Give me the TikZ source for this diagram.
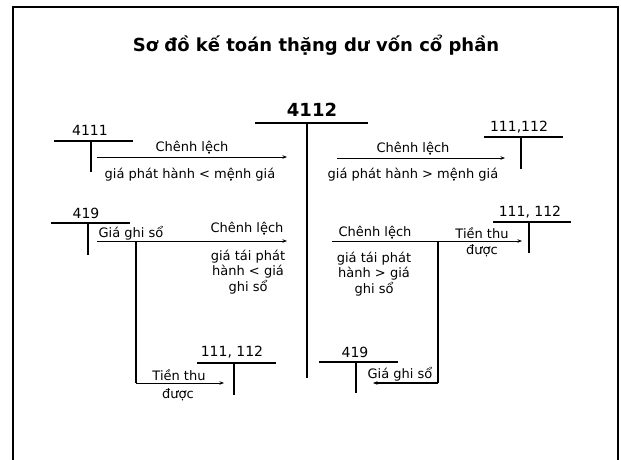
\documentclass[tikz,border=0pt]{standalone}
\usepackage{fontspec}
\setmainfont{DejaVu Sans}
\usetikzlibrary{arrows.meta}
\begin{document}
\begin{tikzpicture}[x=1pt,y=-1pt,
  taline/.style={line width=1.8pt},
  flow/.style={line width=0.9pt},
  flowarrow/.style={line width=0.9pt,-{Stealth[length=4.5pt,width=3.5pt]}},
  heading/.style={inner sep=0pt,font=\fontsize{18}{21}\selectfont\bfseries},
  acct/.style={inner sep=0pt,font=\fontsize{14}{16}\selectfont},
  txt/.style={inner sep=0pt,align=center,font=\fontsize{13}{15.8}\selectfont},
]
\useasboundingbox (0,0) rectangle (621,459);
% outer frame, open at the bottom
\draw[line width=2pt] (13,460) -- (13,7) -- (618,7) -- (618,460);

% title
\node[heading] (title) at (316,45) {Sơ đồ kế toán thặng dư vốn cổ phần};

% central account 4112
\node[heading] (a4112) at (312,110) {4112};
\coordinate (c4112L) at (255,123);
\coordinate (c4112R) at (368,123);
\coordinate (c4112T) at (307,123);
\coordinate (c4112B) at (307,378);
\draw[taline] (c4112L) -- (c4112R);
\draw[taline] (c4112T) -- (c4112B);

% account 4111 (top left)
\node[acct] (a4111) at (90,130) {4111};
\coordinate (c4111L) at (54,141);
\coordinate (c4111R) at (133,141);
\coordinate (c4111T) at (91,141);
\coordinate (c4111B) at (91,172);
\draw[taline] (c4111L) -- (c4111R);
\draw[taline] (c4111T) -- (c4111B);

% account 111,112 (top right)
\node[acct] (aCashA) at (519,127) {111,112};
\coordinate (cCashAL) at (484,137);
\coordinate (cCashAR) at (563,137);
\coordinate (cCashAT) at (521,137);
\coordinate (cCashAB) at (521,169);
\draw[taline] (cCashAL) -- (cCashAR);
\draw[taline] (cCashAT) -- (cCashAB);

% flow 4111 -> 4112
\coordinate (f1s) at (97,157);
\coordinate (f1e) at (287,157);
\draw[flowarrow] (f1s) -- (f1e);
\node[txt] (t1a) at (192,147) {Chênh lệch};
\node[txt] (t1b) at (190,175) {giá phát hành < mệnh giá};

% flow 4112 -> 111,112
\coordinate (f2s) at (337,158);
\coordinate (f2e) at (505,158);
\draw[flowarrow] (f2s) -- (f2e);
\node[txt] (t2a) at (413,148) {Chênh lệch};
\node[txt] (t2b) at (413,175) {giá phát hành > mệnh giá};

% account 419 (left)
\node[acct] (a419A) at (86,213) {419};
\coordinate (c419AL) at (51,223);
\coordinate (c419AR) at (130,223);
\coordinate (c419AT) at (88,223);
\coordinate (c419AB) at (88,255);
\draw[taline] (c419AL) -- (c419AR);
\draw[taline] (c419AT) -- (c419AB);
\node[txt] (t3g) at (131,233) {Giá ghi sổ};

% flow 419 -> 4112, with branch down to cash received
\coordinate (f3s) at (97,241);
\coordinate (f3e) at (287,241);
\draw[flowarrow] (f3s) -- (f3e);
\node[txt] (t3a) at (247,228) {Chênh lệch};
\node[txt] (t3b) at (248,272) {giá tái phát\\hành < giá\\ghi sổ};
\coordinate (f3dT) at (136,241);
\coordinate (f3dB) at (136,383);
\coordinate (f3dE) at (224,383);
\draw[taline] (f3dT) -- (f3dB);
\draw[flowarrow] (f3dB) -- (f3dE);
\node[txt] (t3c) at (179,375) {Tiền thu};
\node[txt] (t3d) at (178,395) {được};

% account 111, 112 (bottom left)
\node[acct] (aCashB) at (232,352) {111, 112};
\coordinate (cCashBL) at (197,363);
\coordinate (cCashBR) at (276,363);
\coordinate (cCashBT) at (234,363);
\coordinate (cCashBB) at (234,395);
\draw[taline] (cCashBL) -- (cCashBR);
\draw[taline] (cCashBT) -- (cCashBB);

% flow 4112 -> 111, 112 (right middle)
\coordinate (f4s) at (332,241);
\coordinate (f4e) at (522,241);
\draw[flowarrow] (f4s) -- (f4e);
\node[txt] (t4a) at (375,232) {Chênh lệch};
\node[txt] (t4b) at (374,274) {giá tái phát\\hành > giá\\ghi sổ};
\node[txt] (t4c) at (482,242) {Tiền thu\\được};

% account 111, 112 (right middle)
\node[acct] (aCashC) at (530,212) {111, 112};
\coordinate (cCashCL) at (493,222);
\coordinate (cCashCR) at (571,222);
\coordinate (cCashCT) at (529,222);
\coordinate (cCashCB) at (529,253);
\draw[taline] (cCashCL) -- (cCashCR);
\draw[taline] (cCashCT) -- (cCashCB);

% branch down to 419 (bottom right)
\coordinate (f4dT) at (438,241);
\coordinate (f4dB) at (438,383);
\coordinate (f4dE) at (373,383);
\draw[taline] (f4dT) -- (f4dB);
\draw[taline,-{Stealth[length=4.5pt,width=3.5pt]}] (f4dB) -- (f4dE);
\node[txt] (t4g) at (400,374) {Giá ghi sổ};

% account 419 (bottom right)
\node[acct] (a419B) at (355,352) {419};
\coordinate (c419BL) at (319,362);
\coordinate (c419BR) at (398,362);
\coordinate (c419BT) at (356,362);
\coordinate (c419BB) at (356,393);
\draw[taline] (c419BL) -- (c419BR);
\draw[taline] (c419BT) -- (c419BB);
\end{tikzpicture}
\end{document}
